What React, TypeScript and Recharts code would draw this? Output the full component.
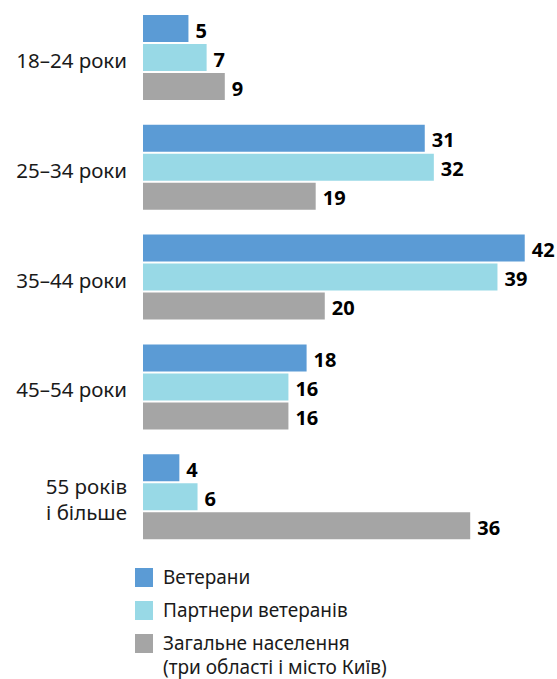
import React from "react";
import { BarChart, Bar, XAxis, YAxis, LabelList } from "recharts";

const categories = ["18–24 роки", "25–34 роки", "35–44 роки", "45–54 роки", "55 років\nі більше"];
const veterans = [5, 31, 42, 18, 4];
const partners = [7, 32, 39, 16, 6];
const population = [9, 19, 20, 16, 36];

const seriesNames = ["Ветерани", "Партнери ветеранів", "Загальне населення\n(три області і місто Київ)"];
const colors = ["#5b9bd5", "#98d9e6", "#a5a5a5"];

const data = categories.map((name, i) => ({
  name,
  veterans: veterans[i],
  partners: partners[i],
  population: population[i],
}));

const FONT = "'Noto Sans', sans-serif";

// підпис категорії, може бути у два рядки
const CategoryTick = (props: any) => {
  const { x, y, payload } = props;
  const lines = String(payload.value).split("\n");
  const lh = 26;
  const start = y - ((lines.length - 1) * lh) / 2 + 2;
  return (
    <text x={x} y={start} textAnchor="end" fontFamily={FONT} fontSize={20.5} fill="#1a1a1a">
      {lines.map((l, i) => (
        <tspan key={i} x={x} y={start + i * lh} dominantBaseline="central">
          {l}
        </tspan>
      ))}
    </text>
  );
};

const labelStyle = { fontFamily: FONT, fontSize: 20, fontWeight: 700, fill: "#000" };

export default function App() {
  const keys = ["veterans", "partners", "population"];
  return (
    <div style={{ position: "absolute", left: 0, top: 0, width: 557, height: 679, background: "#fff", overflow: "hidden" }}>
      <BarChart
        width={557}
        height={552}
        data={data}
        layout="vertical"
        margin={{ top: 3, right: 5, bottom: 0, left: 0 }}
        barSize={27}
        barGap={2}
      >
        <XAxis type="number" domain={[0, 45]} hide />
        <YAxis
          type="category"
          dataKey="name"
          width={143}
          axisLine={false}
          tickLine={false}
          tickSize={0}
          tickMargin={16}
          tick={<CategoryTick />}
        />
        {keys.map((k, i) => (
          <Bar key={k} dataKey={k} fill={colors[i]} isAnimationActive={false}>
            <LabelList dataKey={k} position="right" offset={7} dy={2} style={labelStyle} />
          </Bar>
        ))}
      </BarChart>

      {/* легенда */}
      <div style={{ position: "absolute", left: 135, top: 565, fontFamily: FONT, fontSize: 19, color: "#1a1a1a" }}>
        {seriesNames.map((s, i) => (
          <div key={s} style={{ display: "flex", alignItems: "flex-start", minHeight: 33 }}>
            <div style={{ width: 18, height: 19, background: colors[i], marginTop: 3, flexShrink: 0 }} />
            <div style={{ marginLeft: 10, lineHeight: "24px", whiteSpace: "pre" }}>{s}</div>
          </div>
        ))}
      </div>
    </div>
  );
}
